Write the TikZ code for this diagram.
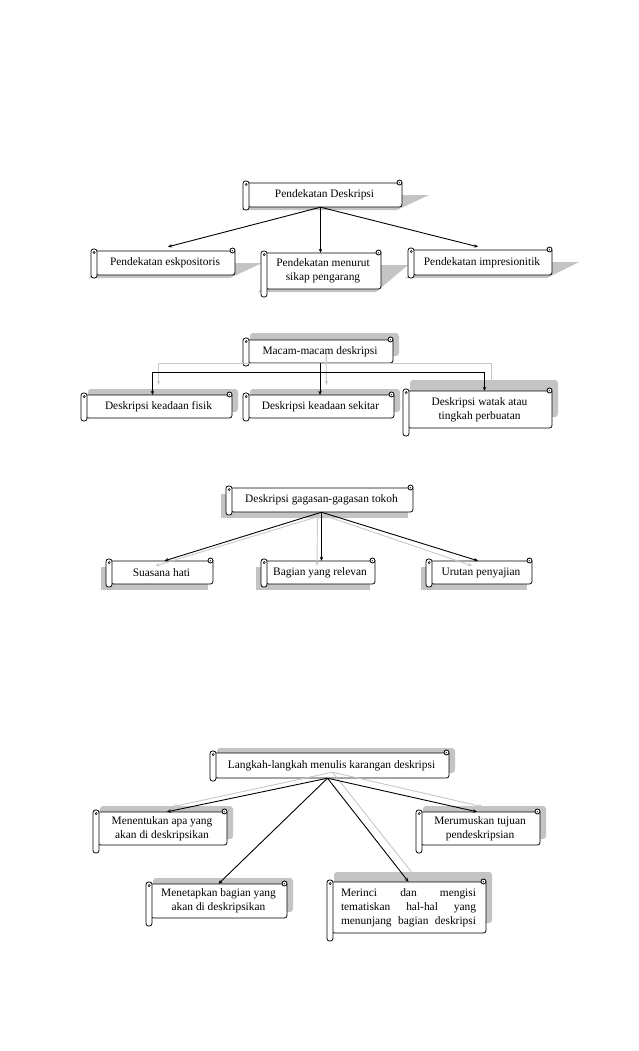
\documentclass[tikz,border=0pt]{standalone}
\usepackage{fontspec}
\setmainfont{Liberation Serif}
\usetikzlibrary{arrows.meta}
\definecolor{shadowc}{HTML}{C4C4C4}
\definecolor{linegray}{HTML}{C8C8C8}
\newcommand\boxfont{\fontsize{11.4}{14}\selectfont}
% shadow styles
\newcommand\shP{\fill[shadowc] (\xa+26,\ya+12) -- (\xb+27,\ya+12) -- (\xb-5,\yb+3) -- (\xa-5,\yb+3) -- cycle;}
\newcommand\shU[1]{\fill[shadowc,rounded corners=3pt] (\xa+5,\ya-#1) rectangle (\xb+6,\yb-#1);}
\newcommand\shL{\fill[shadowc] (\xa-7,\ya+6) rectangle (\xb-5,\yb+6);}
% scroll box: #1 shadow, #2 name, #3 x1, #4 y1, #5 x2, #6 y2, #7 text
\newcommand\scr[7]{%
  \def\xa{#3}\def\ya{#4}\def\xb{#5}\def\yb{#6}%
  #1
  \pgfmathsetmacro\bw{#5-#3}\pgfmathsetmacro\bh{#6-#4}%
  \pgfmathsetmacro\rb{\bh<30 ? 3 : 8}%
  \draw[bl,fill=white] (#3+3,#4) -- (#5,#4) [rounded corners=2.5pt] -- (#5,#6) -- (#3+3,#6) [sharp corners] -- cycle;
  \draw[bl,fill=white,rounded corners=2.5pt] (#3-2,#4-2) rectangle (#3+4,#6+\rb);
  \draw[draw=black,line width=0.5pt] (#3+1.2,#4+1.5) circle (1.1pt);
  \draw[bl,fill=white] (#5-2.5,#4-0.5) circle (2.5pt);
  \fill (#5-2.8,#4-0.2) circle (0.7pt);
  \node[inner sep=0pt,minimum width=\bw pt,minimum height=\bh pt,align=center,font=\boxfont] (#2) at ({(#3+#5)/2+1},{(#4+#6)/2}) {#7};
}
\begin{document}
\begin{tikzpicture}[x=1pt,y=-1pt,
  bl/.style={draw=black,line width=0.8pt},
  arr/.style={draw=black,line width=0.9pt,-{Stealth[length=4pt,width=3.5pt]}},
  garr/.style={draw=linegray,line width=0.9pt,-{Stealth[length=4pt,width=3.5pt]}}]
\path[use as bounding box,fill=white] (0,0) rectangle (638,1051);

% ---------- group 1
\scr{\shP}{g1}{245}{183}{402}{207}{Pendekatan Deskripsi}
\scr{\shP}{g1a}{93}{251}{235}{275}{Pendekatan eskpositoris}
\scr{\shP}{g1b}{263}{253}{381}{289}{Pendekatan menurut\\sikap pengarang}
\scr{\shP}{g1c}{410}{250}{552}{275}{Pendekatan impresionitik}
\coordinate (g1s) at ([xshift=-4pt]g1.south);
\draw[arr] (g1s) -- ([xshift=3pt,yshift=4pt]g1a.north);
\draw[arr] (g1s) -- (g1s |- g1b.north);
\draw[arr] (g1s) -- ([xshift=-4pt,yshift=3pt]g1c.north);

% ---------- group 2
\scr{\shU{7}}{m}{245}{340}{393}{363}{Macam-macam deskripsi}
\scr{\shU{6}}{m1}{83}{395}{232}{418}{Deskripsi keadaan fisik}
\scr{\shU{6}}{m2}{245}{395}{394}{418}{Deskripsi keadaan sekitar}
\scr{\shU{11}}{m3}{405}{391}{552}{428}{Deskripsi watak atau\\tingkah perbuatan}
\coordinate (ms) at ([xshift=6pt,yshift=9pt]m.south);
\draw[garr] (ms) -- ++(0,9) -| ([xshift=0pt,yshift=10pt]m1.north);
\draw[garr] (ms) -- ([xshift=6pt,yshift=10pt]m2.north);
\draw[garr] (ms) -- ++(0,9) -| ([xshift=12pt,yshift=6pt]m3.north);
\draw[arr] (m.south) -- ++(0,9) -| ([xshift=-6pt]m1.north);
\draw[arr] (m.south) -- (m.south |- m2.north);
\draw[arr] (m.south) -- ++(0,9) -| ([xshift=5pt]m3.north);

% ---------- group 3
\scr{\shL}{t}{228}{488}{413}{512}{Deskripsi gagasan-gagasan tokoh}
\scr{\shL}{t1}{108}{561}{213}{584}{Suasana hati}
\scr{\shL}{t2}{263}{561}{375}{584}{Bagian yang relevan}
\scr{\shL}{t3}{428}{561}{532}{584}{Urutan penyajian}
\draw[garr] ([xshift=1pt,yshift=-3pt]t.south) -- ([xshift=-6pt,yshift=-5pt]t1.north);
\draw[garr] ([xshift=-4pt,yshift=-2pt]t.south) -- ([xshift=-3pt,yshift=-5pt]t2.north);
\draw[garr] ([xshift=2pt,yshift=-3pt]t.south) -- ([xshift=-9pt,yshift=-5pt]t3.north);
\draw[arr] (t.south) -- ([xshift=3pt]t1.north);
\draw[arr] (t.south) -- (t.south |- t2.north);
\draw[arr] (t.south) -- ([xshift=-3pt]t3.north);

% ---------- group 4
\scr{\shU{5}}{L}{212}{753}{449}{778}{Langkah-langkah menulis karangan deskripsi}
\scr{\shU{6}}{L1}{95}{812}{227}{845}{Menentukan apa yang\\akan di deskripsikan}
\scr{\shU{6}}{L2}{418}{812}{540}{845}{Merumuskan tujuan\\pendeskripsian}
\scr{\shU{6}}{L3}{148}{884}{287}{918}{Menetapkan bagian yang\\akan di deskripsikan}
\scr{\shU{10}}{L4}{329}{882}{486}{933}{\makebox[135pt][s]{Merinci dan mengisi}\\\makebox[135pt][s]{tematiskan hal-hal yang}\\\makebox[135pt][s]{menunjang bagian deskripsi}}
\coordinate (Lg) at ([xshift=1pt,yshift=6pt]L.south);
\coordinate (Ls) at ([xshift=-4pt]L.south);
\draw[garr] (Lg) -- ([xshift=10pt,yshift=5pt]L1.north);
\draw[garr] (Lg) -- ([xshift=3pt,yshift=5pt]L2.north);
\draw[garr] (Lg) -- ([xshift=6pt,yshift=6pt]L4.north);
\draw[arr] (Ls) -- ([xshift=5pt]L1.north);
\draw[arr] (Ls) -- ([xshift=-3pt]L2.north);
\draw[arr] (Ls) -- (L3.north);
\draw[arr] (Ls) -- ([xshift=0pt]L4.north);
\end{tikzpicture}
\end{document}
